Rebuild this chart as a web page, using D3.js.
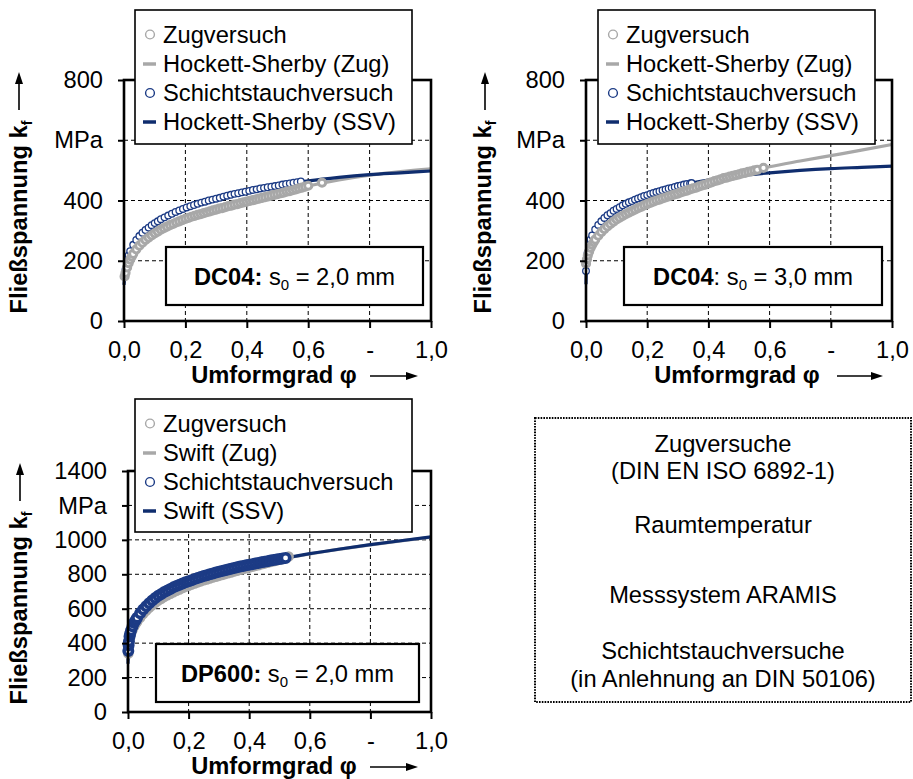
<!DOCTYPE html>
<html>
<head>
<meta charset="utf-8">
<script src="https://cdn.jsdelivr.net/npm/d3@7"></script>
<style>
  body { margin: 0; background: #fff; }
  svg { display: block; font-family: Arial, "Liberation Sans", sans-serif; }
</style>
</head>
<body>
<svg id="chart" width="913" height="779"></svg>
<script>
// ---- data (phi, k_f in MPa) ----

// DC04, s0 = 2,0 mm
const dc04_2_zug = [[0.002,148],[0.005,160],[0.01,178],[0.015,192],[0.02,204],[0.025,214],[0.03,223],[0.04,238],[0.05,250],[0.06,260],[0.07,269],[0.08,277],[0.09,284],[0.10,291],[0.11,297],[0.12,303],[0.13,308],[0.14,313],[0.15,318],[0.16,322],[0.17,327],[0.18,331],[0.19,335],[0.20,339],[0.21,342],[0.22,346],[0.23,349],[0.24,352],[0.25,355],[0.26,358],[0.27,361],[0.28,364],[0.29,367],[0.30,370],[0.31,373],[0.32,375],[0.33,378],[0.34,381],[0.35,383],[0.36,386],[0.37,388],[0.38,391],[0.39,394],[0.40,396],[0.41,399],[0.42,401],[0.43,404],[0.44,406],[0.45,409],[0.46,411],[0.47,414],[0.48,416],[0.49,419],[0.50,421],[0.51,424],[0.52,426],[0.53,429],[0.54,431],[0.55,434],[0.56,437],[0.57,440],[0.58,443],[0.59,446],[0.60,449],[0.645,459]];
const dc04_2_zugFit = [[0,140],[0.005,160],[0.01,178],[0.02,204],[0.04,238],[0.06,260],[0.08,277],[0.1,291],[0.15,318],[0.2,339],[0.3,370],[0.4,396],[0.5,421],[0.6,448],[0.7,468],[0.8,484],[0.9,496],[1.0,505]];
const dc04_2_ssv = [[0.005,171],[0.01,199],[0.015,218],[0.02,232],[0.03,253],[0.04,269],[0.05,282],[0.06,293],[0.07,302],[0.08,310],[0.09,318],[0.10,325],[0.11,331],[0.12,338],[0.132,344],[0.144,350],[0.156,356],[0.168,362],[0.18,367],[0.192,372],[0.204,377],[0.216,381],[0.228,385],[0.24,389],[0.252,393],[0.264,396],[0.276,400],[0.288,403],[0.30,406],[0.312,409],[0.324,413],[0.336,416],[0.348,419],[0.36,422],[0.372,424],[0.384,427],[0.396,429],[0.408,432],[0.42,435],[0.432,437],[0.444,440],[0.456,442],[0.468,444],[0.48,446],[0.492,448],[0.504,450],[0.516,453],[0.528,455],[0.54,457],[0.552,459],[0.564,461],[0.576,463]];
const dc04_2_ssvFit = [[0,120],[0.005,170],[0.01,199],[0.02,232],[0.04,269],[0.06,293],[0.08,310],[0.1,325],[0.15,353],[0.2,375],[0.3,406],[0.4,430],[0.5,449],[0.6,465],[0.7,477],[0.8,486],[0.9,492],[1.0,498]];

// DC04, s0 = 3,0 mm
const dc04_3_zug = [[0,190],[0.003,205],[0.006,218],[0.01,230],[0.015,243],[0.02,253],[0.025,262],[0.03,270],[0.04,283],[0.05,295],[0.06,305],[0.07,314],[0.08,322],[0.09,330],[0.10,337],[0.11,343],[0.12,349],[0.13,355],[0.14,360],[0.15,365],[0.16,370],[0.17,375],[0.18,379],[0.19,384],[0.20,388],[0.21,392],[0.22,396],[0.23,400],[0.24,403],[0.25,407],[0.26,410],[0.27,414],[0.28,417],[0.29,420],[0.30,423],[0.31,427],[0.32,430],[0.33,433],[0.34,437],[0.35,440],[0.36,443],[0.37,447],[0.38,450],[0.39,453],[0.40,457],[0.41,460],[0.42,464],[0.43,467],[0.44,470],[0.45,474],[0.46,476],[0.47,479],[0.48,482],[0.49,484],[0.50,487],[0.51,490],[0.52,492],[0.53,495],[0.54,497],[0.55,500],[0.56,502],[0.58,508]];
const dc04_3_zugFit = [[0,185],[0.01,230],[0.02,253],[0.04,283],[0.06,305],[0.08,322],[0.1,337],[0.15,365],[0.2,388],[0.3,423],[0.4,457],[0.5,487],[0.6,512],[0.7,531],[0.8,549],[0.9,567],[1.0,586]];
const dc04_3_ssv = [[0,166],[0.002,200],[0.005,225],[0.01,253],[0.015,271],[0.02,284],[0.03,304],[0.04,319],[0.05,331],[0.06,342],[0.07,351],[0.08,358],[0.09,366],[0.10,372],[0.11,378],[0.12,384],[0.13,389],[0.14,394],[0.15,398],[0.16,403],[0.17,407],[0.18,411],[0.19,415],[0.20,418],[0.21,422],[0.22,425],[0.23,428],[0.24,431],[0.25,434],[0.26,437],[0.27,440],[0.28,442],[0.29,445],[0.30,448],[0.31,450],[0.32,453],[0.33,455],[0.34,457],[0.345,458]];
const dc04_3_ssvFit = [[0,122],[0.002,200],[0.005,225],[0.01,253],[0.02,284],[0.04,319],[0.06,342],[0.08,358],[0.1,372],[0.15,398],[0.2,418],[0.3,448],[0.4,468],[0.5,482],[0.6,492],[0.7,500],[0.8,506],[0.9,510],[1.0,514]];

// DP600, s0 = 2,0 mm
const dp600_zug = [[0.001,340],[0.003,385],[0.005,415],[0.007,436],[0.01,455],[0.015,478],[0.02,497],[0.025,511],[0.03,524],[0.04,548],[0.05,570],[0.06,588],[0.07,605],[0.08,620],[0.09,634],[0.10,647],[0.11,658],[0.12,669],[0.13,678],[0.14,687],[0.15,696],[0.16,704],[0.17,712],[0.18,720],[0.19,727],[0.20,734],[0.21,740],[0.22,747],[0.23,753],[0.24,759],[0.25,765],[0.26,770],[0.27,776],[0.28,781],[0.29,786],[0.30,791],[0.31,796],[0.32,801],[0.33,806],[0.34,811],[0.35,816],[0.36,821],[0.37,826],[0.38,830],[0.39,835],[0.40,840],[0.41,844],[0.42,849],[0.43,853],[0.44,858],[0.45,862],[0.46,867],[0.47,871],[0.48,876],[0.49,880],[0.50,885],[0.51,889],[0.52,894],[0.53,903]];
const dp600_zugFit = [[0,300],[0.005,415],[0.01,455],[0.02,497],[0.04,548],[0.06,588],[0.08,620],[0.1,647],[0.15,696],[0.2,734],[0.3,791],[0.4,840],[0.5,885],[0.6,918],[0.7,946],[0.8,971],[0.9,994],[1.0,1015]];
const dp600_ssv = [[0.001,355],[0.002,388],[0.003,410],[0.005,438],[0.007,455],[0.01,474],[0.015,498],[0.02,518],[0.025,533],[0.03,548],[0.04,573],[0.05,595],[0.06,614],[0.07,632],[0.08,648],[0.09,662],[0.10,675],[0.11,686],[0.12,697],[0.13,706],[0.14,715],[0.15,724],[0.16,732],[0.17,739],[0.18,747],[0.19,754],[0.20,760],[0.21,766],[0.22,773],[0.23,779],[0.24,784],[0.25,790],[0.26,795],[0.27,800],[0.28,805],[0.29,810],[0.30,815],[0.31,819],[0.32,824],[0.33,828],[0.34,832],[0.35,837],[0.36,841],[0.37,845],[0.38,848],[0.39,852],[0.40,856],[0.41,859],[0.42,863],[0.43,866],[0.44,870],[0.45,873],[0.46,876],[0.47,880],[0.48,883],[0.49,886],[0.50,889],[0.51,892],[0.52,895]];
const dp600_ssvFit = [[0,280],[0.002,388],[0.005,438],[0.01,474],[0.02,518],[0.04,573],[0.06,614],[0.08,648],[0.1,675],[0.15,724],[0.2,760],[0.3,815],[0.4,856],[0.5,889],[0.6,920],[0.7,947],[0.8,972],[0.9,995],[1.0,1017]];

// axes / labels
const xTicks = [0, 0.2, 0.4, 0.6, 0.8, 1.0];
const xTickLabels = ['0,0', '0,2', '0,4', '0,6', '-', '1,0'];
const yTicksDC04 = [0, 200, 400, 600, 800];
const yTickLabelsDC04 = ['0', '200', '400', 'MPa', '800'];
const yTicksDP600 = [0, 200, 400, 600, 800, 1000, 1200, 1400];
const yTickLabelsDP600 = ['0', '200', '400', '600', '800', '1000', 'MPa', '1400'];
const legendHS = ['Zugversuch', 'Hockett-Sherby (Zug)', 'Schichtstauchversuch', 'Hockett-Sherby (SSV)'];
const legendSwift = ['Zugversuch', 'Swift (Zug)', 'Schichtstauchversuch', 'Swift (SSV)'];
const infoLines = ['Zugversuche', '(DIN EN ISO 6892-1)', 'Raumtemperatur', 'Messsystem ARAMIS', 'Schichtstauchversuche', '(in Anlehnung an DIN 50106)'];

const GREY = '#a8a8a8';
const NAVY = '#0f2d6e';
const NAVY_PT = '#1c3b85';
const FS = 23.7;

const svg = d3.select('#chart');

const panels = [
  {
    left: 124, right: 431, top: 80, bottom: 321, yMax: 800,
    yTicks: yTicksDC04, yLabels: yTickLabelsDC04, legend: legendHS,
    zug: dc04_2_zug, zugFit: dc04_2_zugFit, ssv: dc04_2_ssv, ssvFit: dc04_2_ssvFit,
    order: ['zugFit', 'ssvFit', 'ssv', 'zug'],
    marks: { zugR: 3.6, zugW: 3, ssvR: 3.3, ssvW: 1.3 },
    legendBox: [135, 10, 277, 134],
    note: { box: [166, 247, 257, 58], bold: 'DC04:', val: ' = 2,0 mm' },
    yTitle: { x: 27, arrowX: 19 },
    xTitle: { cx: 274, a0: 370, a1: 418 }
  },
  {
    left: 586, right: 892, top: 80, bottom: 321, yMax: 800,
    yTicks: yTicksDC04, yLabels: yTickLabelsDC04, legend: legendHS,
    zug: dc04_3_zug, zugFit: dc04_3_zugFit, ssv: dc04_3_ssv, ssvFit: dc04_3_ssvFit,
    order: ['zugFit', 'ssvFit', 'ssv', 'zug'],
    marks: { zugR: 3.6, zugW: 3, ssvR: 3.3, ssvW: 1.3 },
    legendBox: [598, 10, 277, 134],
    note: { box: [624, 247, 258, 58], bold: 'DC04', val: ' = 3,0 mm', colon: true },
    yTitle: { x: 491, arrowX: 485 },
    xTitle: { cx: 737, a0: 837, a1: 883 }
  },
  {
    left: 128, right: 431, top: 471, bottom: 712, yMax: 1400,
    yTicks: yTicksDP600, yLabels: yTickLabelsDP600, legend: legendSwift,
    zug: dp600_zug, zugFit: dp600_zugFit, ssv: dp600_ssv, ssvFit: dp600_ssvFit,
    order: ['zugFit', 'ssvFit', 'zug', 'ssv'],
    marks: { zugR: 3.8, zugW: 3, ssvR: 4.2, ssvW: 3.6 },
    legendBox: [135, 399, 277, 133],
    note: { box: [156, 644, 263, 58], bold: 'DP600:', val: ' = 2,0 mm' },
    yTitle: { x: 27, arrowX: 20 },
    xTitle: { cx: 274, a0: 370, a1: 418 }
  }
];

panels.forEach(p => {
  const x = d3.scaleLinear().domain([0, 1]).range([p.left, p.right]);
  const y = d3.scaleLinear().domain([0, p.yMax]).range([p.bottom, p.top]);
  const g = svg.append('g');

  // grid
  g.append('g').selectAll('line')
    .data(p.yTicks.filter(d => d > 0 && d < p.yMax))
    .join('line')
    .attr('x1', p.left).attr('x2', p.right)
    .attr('y1', d => y(d)).attr('y2', d => y(d))
    .attr('stroke', '#000').attr('stroke-width', 1).attr('stroke-dasharray', '4,3');
  g.append('g').selectAll('line')
    .data(xTicks.filter(d => d > 0 && d < 1))
    .join('line')
    .attr('x1', d => x(d)).attr('x2', d => x(d))
    .attr('y1', p.top).attr('y2', p.bottom)
    .attr('stroke', '#000').attr('stroke-width', 1).attr('stroke-dasharray', '4,3');

  // series
  const line = d3.line().x(d => x(d[0])).y(d => y(d[1])).curve(d3.curveMonotoneX);
  const m = p.marks;
  const draw = {
    zugFit: () => g.append('path').datum(p.zugFit).attr('d', line)
      .attr('fill', 'none').attr('stroke', GREY).attr('stroke-width', 3.2),
    ssvFit: () => g.append('path').datum(p.ssvFit).attr('d', line)
      .attr('fill', 'none').attr('stroke', NAVY).attr('stroke-width', 3.2),
    zug: () => g.append('g').selectAll('circle').data(p.zug).join('circle')
      .attr('cx', d => x(d[0])).attr('cy', d => y(d[1])).attr('r', m.zugR)
      .attr('fill', '#fff').attr('stroke', GREY).attr('stroke-width', m.zugW),
    ssv: () => g.append('g').selectAll('circle').data(p.ssv).join('circle')
      .attr('cx', d => x(d[0])).attr('cy', d => y(d[1])).attr('r', m.ssvR)
      .attr('fill', '#fff').attr('stroke', NAVY_PT).attr('stroke-width', m.ssvW)
  };
  p.order.forEach(k => draw[k]());

  // axes
  const ya = g.append('g').attr('transform', `translate(${p.left},0)`)
    .call(d3.axisLeft(y).tickValues(p.yTicks).tickFormat((d, i) => p.yLabels[i])
      .tickSize(6).tickPadding(15).tickSizeOuter(0));
  const xa = g.append('g').attr('transform', `translate(0,${p.bottom})`)
    .call(d3.axisBottom(x).tickValues(xTicks).tickFormat((d, i) => xTickLabels[i])
      .tickSize(7).tickPadding(13).tickSizeOuter(0));
  [ya, xa].forEach(a => {
    a.select('.domain').remove();
    a.selectAll('line').attr('stroke-width', 2);
    a.selectAll('text').attr('font-size', FS).attr('fill', '#000')
      .attr('font-family', 'Arial, "Liberation Sans", sans-serif');
  });

  g.append('rect')
    .attr('x', p.left).attr('y', p.top)
    .attr('width', p.right - p.left).attr('height', p.bottom - p.top)
    .attr('fill', 'none').attr('stroke', '#000').attr('stroke-width', 2.6);

  // y title + arrow
  const cy = (p.top + p.bottom) / 2 + 16.5;
  const yt = g.append('text')
    .attr('transform', `translate(${p.yTitle.x},${cy}) rotate(-90)`)
    .attr('text-anchor', 'middle').attr('font-size', FS).attr('font-weight', 'bold');
  yt.append('tspan').text('Fließspannung k');
  yt.append('tspan').attr('font-size', 14).attr('dy', 5).text('f');
  g.append('line')
    .attr('x1', p.yTitle.arrowX).attr('x2', p.yTitle.arrowX)
    .attr('y1', cy - 107).attr('y2', cy - 136)
    .attr('stroke', '#000').attr('stroke-width', 1.6);
  g.append('path')
    .attr('d', `M${p.yTitle.arrowX},${cy - 145} l-4,12 h8 z`).attr('fill', '#000');

  // x title + arrow
  const by = p.bottom + 62;
  g.append('text')
    .attr('x', p.xTitle.cx).attr('y', by)
    .attr('text-anchor', 'middle').attr('font-size', FS).attr('font-weight', 'bold')
    .text('Umformgrad φ');
  g.append('line')
    .attr('x1', p.xTitle.a0).attr('x2', p.xTitle.a1 - 9)
    .attr('y1', by - 7).attr('y2', by - 7)
    .attr('stroke', '#000').attr('stroke-width', 1.6);
  g.append('path')
    .attr('d', `M${p.xTitle.a1},${by - 7} l-12,-4 v8 z`).attr('fill', '#000');

  // legend
  const [lx, ly, lw, lh] = p.legendBox;
  g.append('rect').attr('x', lx).attr('y', ly).attr('width', lw).attr('height', lh)
    .attr('fill', '#fff').attr('stroke', '#000').attr('stroke-width', 1.6);
  const rows = [24.5, 54, 83, 112];
  const kinds = ['zug', 'zugFit', 'ssv', 'ssvFit'];
  kinds.forEach((k, i) => {
    const ry = ly + rows[i];
    if (k === 'zug' || k === 'ssv') {
      g.append('circle').attr('cx', lx + 15).attr('cy', ry).attr('r', 4.4)
        .attr('fill', '#fff').attr('stroke', k === 'zug' ? GREY : NAVY_PT).attr('stroke-width', 1.4);
    } else {
      g.append('line').attr('x1', lx + 8).attr('x2', lx + 21).attr('y1', ry).attr('y2', ry)
        .attr('stroke', k === 'zugFit' ? GREY : NAVY).attr('stroke-width', 3.5);
    }
    g.append('text').attr('x', lx + 28).attr('y', ry).attr('dy', '0.35em')
      .attr('font-size', FS).text(p.legend[i]);
  });

  // material note
  const [nx, ny, nw, nh] = p.note.box;
  g.append('rect').attr('x', nx).attr('y', ny).attr('width', nw).attr('height', nh)
    .attr('fill', '#fff').attr('stroke', '#000').attr('stroke-width', 2.2);
  const nt = g.append('text').attr('x', nx + nw / 2).attr('y', ny + 38)
    .attr('text-anchor', 'middle').attr('font-size', FS);
  nt.append('tspan').attr('font-weight', 'bold').text(p.note.bold);
  nt.append('tspan').text((p.note.colon ? ':' : '') + ' s');
  nt.append('tspan').attr('font-size', 15).attr('dy', 5).text('0');
  nt.append('tspan').attr('dy', -5).text(p.note.val);
});

// info box
svg.append('rect').attr('x', 535).attr('y', 418).attr('width', 376).attr('height', 284)
  .attr('fill', 'none').attr('stroke', '#000').attr('stroke-width', 2)
  .attr('stroke-dasharray', '1.6,1.2');
const infoY = [452, 479, 533, 603, 659, 687];
svg.append('g').selectAll('text').data(infoLines).join('text')
  .attr('x', 723).attr('y', (d, i) => infoY[i])
  .attr('text-anchor', 'middle').attr('font-size', FS)
  .text(d => d);
</script>
</body>
</html>
